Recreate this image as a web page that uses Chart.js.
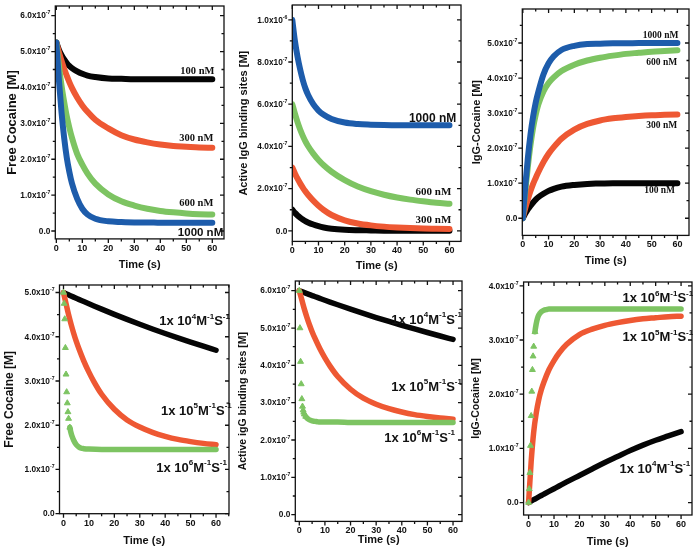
<!DOCTYPE html>
<html lang="en">
<head>
  <meta charset="UTF-8">
  <title>Cocaine / IgG binding kinetics</title>
  <script src="https://cdn.jsdelivr.net/npm/chart.js"></script>
  <style>
    body {
      margin: 0;
      background: #fff;
      width: 697px;
      height: 551px;
      position: relative;
      overflow: hidden;
    }
    canvas {
      position: absolute;
    }
  </style>
</head>
<body>

  <canvas id="c1"></canvas>
  <canvas id="c2"></canvas>
  <canvas id="c3"></canvas>
  <canvas id="c4"></canvas>
  <canvas id="c5"></canvas>
  <canvas id="c6"></canvas>

  <script>
    // all concentrations in units of 1e-7 M, time in s
    const timeA = [0, 1, 2, 3, 4, 5, 6, 8, 10, 12, 15, 20, 25, 30, 35, 40, 45, 50, 55, 60];
    const timeFast = [0, 0.25, 0.5, 0.75, 1, 1.25, 1.5, 1.75, 2, 2.5, 3, 3.5, 4, 5, 6, 7, 8, 10, 15, 20, 30, 40, 50, 60];

    // top row: different IgG concentrations
    const concLabels = ["100 nM", "300 nM", "600 nM", "1000 nM"];
    const free100 = [5.25, 5.05, 4.9, 4.78, 4.68, 4.6, 4.54, 4.45, 4.38, 4.33, 4.29, 4.25, 4.24, 4.23, 4.23, 4.23, 4.23, 4.23, 4.23, 4.23];
    const free300 = [5.25, 4.98, 4.74, 4.52, 4.33, 4.15, 3.99, 3.72, 3.5, 3.32, 3.1, 2.86, 2.67, 2.55, 2.47, 2.41, 2.37, 2.35, 2.33, 2.32];
    const free600 = [5.25, 4.6, 4.05, 3.6, 3.2, 2.88, 2.6, 2.15, 1.85, 1.6, 1.32, 1.02, 0.83, 0.71, 0.62, 0.56, 0.52, 0.49, 0.47, 0.46];
    const free1000 = [5.25, 4.2, 3.3, 2.6, 2.05, 1.65, 1.33, 0.9, 0.62, 0.46, 0.34, 0.27, 0.25, 0.24, 0.24, 0.23, 0.23, 0.23, 0.23, 0.23];

    const sites100 = [1.0, 0.85, 0.73, 0.63, 0.54, 0.46, 0.4, 0.3, 0.22, 0.16, 0.1, 0.05, 0.03, 0.02, 0.01, 0.01, 0, 0, 0, 0];
    const sites300 = [3.0, 2.72, 2.47, 2.25, 2.05, 1.87, 1.71, 1.43, 1.19, 0.99, 0.75, 0.5, 0.35, 0.26, 0.2, 0.16, 0.13, 0.11, 0.1, 0.09];
    const sites600 = [6.0, 5.55, 5.15, 4.8, 4.5, 4.24, 4.02, 3.66, 3.36, 3.11, 2.8, 2.4, 2.1, 1.88, 1.71, 1.58, 1.48, 1.4, 1.33, 1.28];
    const sites1000 = [10.0, 9.0, 8.25, 7.65, 7.15, 6.75, 6.45, 6.0, 5.7, 5.5, 5.3, 5.13, 5.06, 5.03, 5.01, 5.0, 5.0, 5.0, 5.0, 5.0];

    const bound100 = [0, 0.14, 0.26, 0.36, 0.45, 0.53, 0.6, 0.7, 0.78, 0.84, 0.9, 0.95, 0.98, 0.99, 1.0, 1.0, 1.0, 1.0, 1.0, 1.0];
    const bound300 = [0, 0.3, 0.55, 0.78, 0.98, 1.15, 1.31, 1.6, 1.84, 2.03, 2.27, 2.53, 2.69, 2.79, 2.85, 2.89, 2.92, 2.94, 2.95, 2.96];
    const bound600 = [0, 0.8, 1.5, 2.1, 2.58, 2.95, 3.24, 3.62, 3.86, 4.02, 4.2, 4.38, 4.5, 4.58, 4.64, 4.69, 4.72, 4.75, 4.77, 4.79];
    const bound1000 = [0, 0.95, 1.75, 2.4, 2.9, 3.3, 3.6, 4.1, 4.42, 4.62, 4.8, 4.92, 4.97, 4.98, 4.99, 4.99, 5.0, 5.0, 5.0, 5.0];

    // bottom row: different association rate constants
    const rateLabels = ["1x 10⁴M⁻¹S⁻¹", "1x 10⁵M⁻¹S⁻¹", "1x 10⁶M⁻¹S⁻¹"];
    const freeK4 = [5.0, 4.974, 4.948, 4.922, 4.896, 4.87, 4.845, 4.795, 4.745, 4.696, 4.624, 4.506, 4.392, 4.282, 4.176, 4.074, 3.976, 3.88, 3.786, 3.695];
    const freeK5 = [5.0, 4.75, 4.5, 4.28, 4.08, 3.9, 3.74, 3.45, 3.2, 2.98, 2.7, 2.36, 2.12, 1.96, 1.84, 1.75, 1.68, 1.63, 1.59, 1.56];
    const freeK6 = [5.0, 4.75, 4.4, 3.75, 3.15, 2.75, 2.5, 2.3, 2.15, 1.95, 1.82, 1.73, 1.66, 1.56, 1.51, 1.48, 1.47, 1.46, 1.45, 1.45, 1.45, 1.45, 1.45, 1.45];

    const sitesK4 = [6.0, 5.974, 5.948, 5.922, 5.896, 5.87, 5.845, 5.795, 5.745, 5.696, 5.624, 5.506, 5.392, 5.282, 5.176, 5.074, 4.976, 4.88, 4.786, 4.695];
    const sitesK5 = [6.0, 5.75, 5.5, 5.28, 5.08, 4.9, 4.74, 4.45, 4.2, 3.98, 3.7, 3.36, 3.12, 2.96, 2.84, 2.75, 2.68, 2.63, 2.59, 2.56];
    const sitesK6 = [6.0, 5.0, 4.1, 3.5, 3.1, 2.9, 2.8, 2.74, 2.69, 2.63, 2.59, 2.56, 2.54, 2.51, 2.5, 2.49, 2.48, 2.48, 2.48, 2.47, 2.47, 2.47, 2.47, 2.47];

    const boundK4 = [0, 0.026, 0.052, 0.078, 0.104, 0.13, 0.155, 0.205, 0.255, 0.305, 0.38, 0.5, 0.62, 0.74, 0.85, 0.96, 1.06, 1.15, 1.23, 1.31];
    const boundK5 = [0, 0.75, 1.3, 1.65, 1.9, 2.08, 2.22, 2.45, 2.62, 2.76, 2.92, 3.1, 3.2, 3.27, 3.32, 3.36, 3.39, 3.41, 3.43, 3.44];
    const boundK6 = [0, 0.25, 0.55, 1.05, 1.6, 2.05, 2.45, 2.7, 2.88, 3.15, 3.3, 3.4, 3.46, 3.52, 3.55, 3.56, 3.57, 3.57, 3.57, 3.57, 3.57, 3.57, 3.57, 3.57];

    const BLACK = "#050505", RED = "#ee5833", GREEN = "#7dc462", BLUE = "#1d5cab";
    const SANS = "'Liberation Sans', Arial, sans-serif";
    const SERIF = "'Liberation Serif', 'Times New Roman', serif";
    const SUPER = { "⁰": "0", "¹": "1", "²": "2", "³": "3", "⁴": "4", "⁵": "5", "⁶": "6", "⁷": "7", "⁸": "8", "⁹": "9", "⁻": "-" };

    function yLabel(v) {
      if (v === 0) return "0.0";
      if (v === 10) return "1.0x10⁻⁶";
      return v.toFixed(1) + "x10⁻⁷";
    }

    function line(t, v, color, order, width, tri) {
      return {
        data: t.map((x, i) => ({ x, y: v[i] })),
        borderColor: color,
        backgroundColor: color,
        borderWidth: width,
        borderCapStyle: "round",
        pointStyle: "triangle",
        pointRadius: tri ? (c => c.parsed.x <= 2.5 ? 3.4 : 0) : 0,
        pointBorderWidth: 1,
        cubicInterpolationMode: "monotone",
        order,
        segment: tri ? { borderColor: c => c.p1.parsed.x <= 2.5 ? "rgba(0,0,0,0)" : color } : undefined
      };
    }

    // right-aligned text where unicode superscripts are drawn small and raised
    function richText(ctx, text, xr, y, size, family) {
      const runs = [];
      for (const ch of text) {
        const sup = ch in SUPER;
        const c = sup ? SUPER[ch] : ch;
        if (runs.length && runs[runs.length - 1].sup === sup) runs[runs.length - 1].s += c;
        else runs.push({ sup, s: c });
      }
      const fontOf = r => "bold " + (r.sup ? size * 0.62 : size) + "px " + family;
      let total = 0;
      runs.forEach(r => { ctx.font = fontOf(r); r.w = ctx.measureText(r.s).width; total += r.w; });
      let x = xr - total;
      runs.forEach(r => {
        ctx.font = fontOf(r);
        ctx.fillText(r.s, x, r.sup ? y - size * 0.38 : y);
        x += r.w;
      });
    }

    // frame with Origin-style ticks on all four sides, y tick labels and text labels inside the plot
    const frame = {
      id: "frame",
      afterDraw(chart) {
        const { ctx, chartArea: a } = chart;
        const sx = chart.scales.x, sy = chart.scales.y;
        const o = chart.options.plugins.frame;
        ctx.save();
        ctx.strokeStyle = "#111";
        ctx.lineWidth = 1.3;
        ctx.strokeRect(a.left, a.top, a.right - a.left, a.bottom - a.top);
        ctx.beginPath();
        for (let v = Math.ceil(sx.min / 5) * 5; v <= sx.max; v += 5) {
          const p = sx.getPixelForValue(v), len = v % 10 === 0 ? 4 : 2.5;
          ctx.moveTo(p, a.bottom); ctx.lineTo(p, a.bottom + len);
          ctx.moveTo(p, a.top); ctx.lineTo(p, a.top + len);
        }
        const half = o.ystep / 2;
        for (let k = Math.ceil(sy.min / half); k * half <= sy.max; k++) {
          const p = sy.getPixelForValue(k * half), len = k % 2 === 0 ? 4 : 2.5;
          ctx.moveTo(a.left, p); ctx.lineTo(a.left - len, p);
          ctx.moveTo(a.right, p); ctx.lineTo(a.right - len, p);
        }
        ctx.stroke();

        ctx.fillStyle = "#111";
        ctx.textAlign = "left";
        ctx.textBaseline = "middle";
        sy.ticks.forEach(t => {
          richText(ctx, yLabel(t.value), a.left - 5, sy.getPixelForValue(t.value) + 0.5, 8.3, SANS);
        });
        o.notes.forEach(n => {
          richText(ctx, n.text, sx.getPixelForValue(n.x), sy.getPixelForValue(n.y), n.size, n.family);
        });
        ctx.restore();
      }
    };

    // box = plot frame in page px, tc = y title centre x, xt = x title centre y
    const panels = [
      {
        id: "c1", box: [55.5, 6, 224, 238.5], x: [-0.4, 64.5], y: [-0.22, 6.27], ystep: 1,
        title: "Free Cocaine [M]", ts: 13, tc: 13, xt: 265,
        sets: [line(timeA, free1000, BLUE, 0, 6), line(timeA, free600, GREEN, 1, 6),
               line(timeA, free300, RED, 2, 6), line(timeA, free100, BLACK, 3, 6)],
        notes: [
          { text: concLabels[0], x: 60.8, y: 4.46, size: 10.5, family: SERIF },
          { text: concLabels[1], x: 60.4, y: 2.58, size: 10.5, family: SERIF },
          { text: concLabels[2], x: 60.4, y: 0.76, size: 10.5, family: SERIF },
          { text: concLabels[3], x: 64.2, y: -0.06, size: 11.5, family: SANS }
        ]
      },
      {
        id: "c2", box: [292.7, 5, 461.7, 241.7], x: [0, 64.4], y: [-0.5, 10.7], ystep: 2,
        title: "Active IgG binding sites [M]", ts: 11, tc: 244, xt: 266.7,
        sets: [line(timeA, sites1000, BLUE, 0, 6), line(timeA, sites600, GREEN, 1, 6),
               line(timeA, sites300, RED, 2, 6), line(timeA, sites100, BLACK, 3, 6)],
        notes: [
          { text: concLabels[3], x: 62.6, y: 5.3, size: 12, family: SANS },
          { text: concLabels[2], x: 60.7, y: 1.82, size: 11, family: SERIF },
          { text: concLabels[1], x: 60.7, y: 0.52, size: 11, family: SERIF }
        ]
      },
      {
        id: "c3", box: [522.7, 9.3, 689, 236], x: [-0.2, 64.5], y: [-0.49, 5.97], ystep: 1,
        title: "IgG-Cocaine [M]", ts: 11, tc: 477, xt: 262,
        sets: [line(timeA, bound1000, BLUE, 0, 6), line(timeA, bound600, GREEN, 1, 6),
               line(timeA, bound300, RED, 2, 6), line(timeA, bound100, BLACK, 3, 6)],
        notes: [
          { text: concLabels[3], x: 60.4, y: 5.21, size: 9.5, family: SERIF },
          { text: concLabels[2], x: 59.9, y: 4.43, size: 9.5, family: SERIF },
          { text: concLabels[1], x: 59.9, y: 2.64, size: 9.5, family: SERIF },
          { text: concLabels[0], x: 59.1, y: 0.79, size: 9.5, family: SERIF }
        ]
      },
      {
        id: "c4", box: [59.3, 285, 229, 514], x: [-1.57, 65.1], y: [0, 5.17], ystep: 1,
        title: "Free Cocaine [M]", ts: 12, tc: 9, xt: 541.7,
        sets: [line(timeFast, freeK6, GREEN, 0, 5.5, true), line(timeA, freeK5, RED, 1, 5.5),
               line(timeA, freeK4, BLACK, 2, 5.5)],
        notes: [
          { text: rateLabels[0], x: 65.5, y: 4.34, size: 13, family: SANS },
          { text: rateLabels[1], x: 66.2, y: 2.32, size: 13, family: SANS },
          { text: rateLabels[2], x: 64.3, y: 1.03, size: 13, family: SANS }
        ]
      },
      {
        id: "c5", box: [295, 281, 462, 521], x: [-1.56, 63.5], y: [-0.18, 6.26], ystep: 1,
        title: "Active igG binding sites [M]", ts: 10.5, tc: 243, xt: 540,
        sets: [line(timeFast, sitesK6, GREEN, 0, 5.5, true), line(timeA, sitesK5, RED, 1, 5.5),
               line(timeA, sitesK4, BLACK, 2, 5.5)],
        notes: [
          { text: rateLabels[0], x: 63.5, y: 5.21, size: 13, family: SANS },
          { text: rateLabels[1], x: 63.5, y: 3.42, size: 13, family: SANS },
          { text: rateLabels[2], x: 60.8, y: 2.05, size: 13, family: SANS }
        ]
      },
      {
        id: "c6", box: [523.3, 281.7, 691.7, 514.3], x: [-1.97, 64.3], y: [-0.23, 4.07], ystep: 1,
        title: "IgG-Cocaine [M]", ts: 10.5, tc: 476, xt: 541.7,
        sets: [line(timeFast, boundK6, GREEN, 0, 5.5, true), line(timeA, boundK5, RED, 1, 5.5),
               line(timeA, boundK4, BLACK, 2, 5.5)],
        notes: [
          { text: rateLabels[2], x: 64.8, y: 3.77, size: 13, family: SANS },
          { text: rateLabels[1], x: 64.8, y: 3.05, size: 13, family: SANS },
          { text: rateLabels[0], x: 63.6, y: 0.62, size: 13, family: SANS }
        ]
      }
    ];

    const PAD_TOP = 10, PAD_RIGHT = 10;

    panels.forEach(p => {
      const [x0, y0, x1, y1] = p.box;
      const yw = x0 - p.tc + p.ts * 0.6;   // y axis box width
      const xh = p.xt - y1 + 6.6;          // x axis box height
      const canvas = document.getElementById(p.id);
      canvas.width = Math.round(yw + (x1 - x0) + PAD_RIGHT);
      canvas.height = Math.round(PAD_TOP + (y1 - y0) + xh);
      canvas.style.left = (x0 - yw) + "px";
      canvas.style.top = (y0 - PAD_TOP) + "px";

      new Chart(canvas, {
        type: "line",
        data: { datasets: p.sets },
        plugins: [frame],
        options: {
          responsive: false,
          animation: false,
          layout: { padding: { top: PAD_TOP, right: PAD_RIGHT, left: 0, bottom: 0 } },
          plugins: {
            legend: { display: false },
            tooltip: { enabled: false },
            frame: { ystep: p.ystep, notes: p.notes }
          },
          scales: {
            x: {
              type: "linear",
              min: p.x[0],
              max: p.x[1],
              grid: { display: false, drawTicks: false },
              border: { display: false },
              ticks: { stepSize: 10, includeBounds: false, padding: 4, maxRotation: 0, autoSkip: false,
                       color: "#111", font: { family: SANS, size: 9, weight: "bold" } },
              title: { display: true, text: "Time (s)", padding: 0, color: "#111",
                       font: { family: SANS, size: 11, weight: "bold" } },
              afterFit: s => { s.height = xh; }
            },
            y: {
              type: "linear",
              min: p.y[0],
              max: p.y[1],
              grid: { display: false, drawTicks: false },
              border: { display: false },
              // labels are drawn by the frame plugin so the powers of ten can be superscripts
              ticks: { stepSize: p.ystep, includeBounds: false, autoSkip: false, display: false },
              title: { display: true, text: p.title, padding: 0, color: "#111",
                       font: { family: SANS, size: p.ts, weight: "bold" } },
              afterFit: s => { s.width = yw; }
            }
          }
        }
      });
    });
  </script>

</body>
</html>
